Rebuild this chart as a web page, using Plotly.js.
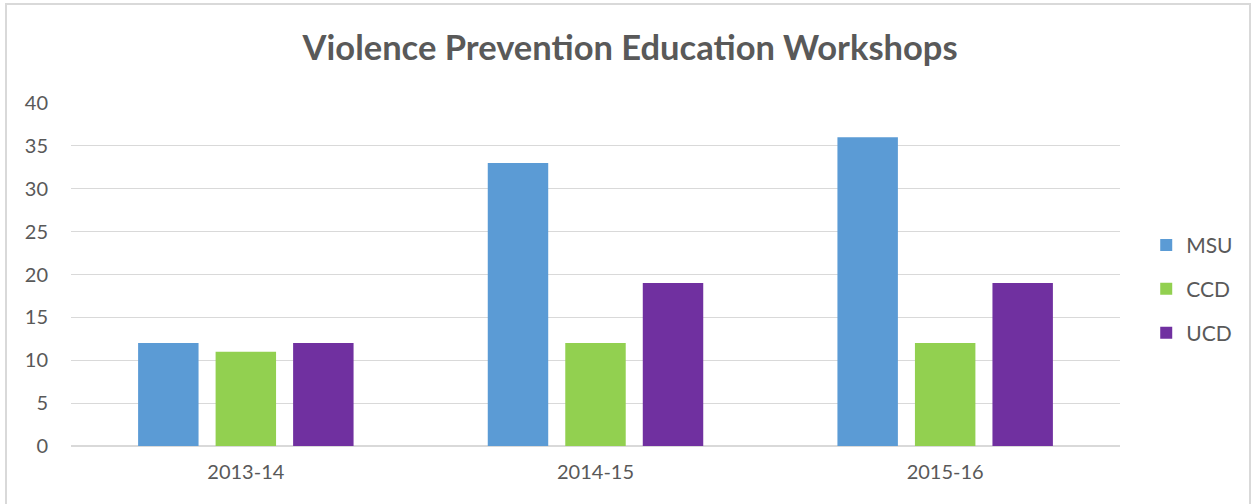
<!DOCTYPE html>
<html>
<head>
<meta charset="utf-8">
<script src="https://cdn.plot.ly/plotly-3.0.1.min.js"></script>
<style>
  html, body { margin: 0; padding: 0; background: #fff; overflow: hidden; }
  #wrap { position: relative; width: 1254px; height: 504px; }
  #chart { position: absolute; left: 0; top: 0; width: 1254px; height: 504px; }
  #frame { position: absolute; left: 5px; top: 3px; width: 1246px; height: 520px; border: 2px solid #d9d9d9; box-sizing: border-box; pointer-events: none; }
</style>
</head>
<body>
<div id="wrap">
  <div id="chart"></div>
  <div id="frame"></div>
</div>
<script>
const categories = ["2013-14", "2014-15", "2015-16"];
const seriesNames = ["MSU", "CCD", "UCD"];
const msu = [12, 33, 36];
const ccd = [11, 12, 12];
const ucd = [12, 19, 19];
const colors = ["#5B9BD5", "#92D050", "#7030A0"];
const values = [msu, ccd, ucd];

const font = "Lato, 'Open Sans', sans-serif";
const traces = seriesNames.map((name, i) => ({
  type: "bar",
  name: name,
  x: categories,
  y: values[i],
  marker: { color: colors[i] },
  legendgroup: name,
  hoverinfo: "x+y+name"
}));

const layout = {
  width: 1254,
  height: 504,
  margin: { l: 71, r: 134, t: 103, b: 58 },
  paper_bgcolor: "rgba(0,0,0,0)",
  plot_bgcolor: "#fff",
  barmode: "group",
  bargap: 0.335,
  bargroupgap: 0.22,
  title: {
    text: "<b>Violence Prevention Education Workshops</b>",
    font: { family: font, size: 34.5, color: "#595959" },
    x: 0.533, xref: "paper", xanchor: "center",
    y: 0.905, yref: "container", yanchor: "middle"
  },
  font: { family: font, color: "#595959", size: 20 },
  xaxis: {
    type: "category",
    showgrid: false,
    showline: false,
    ticks: "",
    ticklabelstandoff: 12,
    tickfont: { family: font, size: 20, color: "#595959" }
  },
  yaxis: {
    range: [0, 40],
    dtick: 5,
    showgrid: true,
    gridcolor: "#d9d9d9",
    gridwidth: 1,
    zeroline: true,
    zerolinecolor: "#d9d9d9",
    zerolinewidth: 2,
    showline: false,
    ticks: "",
    ticklabelstandoff: 22,
    tickfont: { family: font, size: 20, color: "#595959" }
  },
  legend: {
    x: 1.025, xanchor: "left",
    y: 0.458, yanchor: "middle",
    tracegroupgap: 13.5,
    font: { family: font, size: 21, color: "#595959" },
    bgcolor: "rgba(0,0,0,0)",
    itemwidth: 30
  },
  showlegend: true
};

Plotly.newPlot("chart", traces, layout, { displayModeBar: false, staticPlot: true });
</script>
</body>
</html>
